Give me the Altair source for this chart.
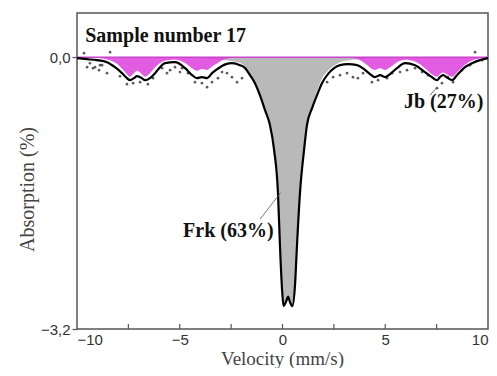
import altair as alt
import pandas as pd

# Total fit curve (velocity mm/s, absorption %)
total_v = [-10.0, -9.51, -9.03, -8.54, -8.15, -7.81, -7.57, -7.42, -7.23, -7.08, -6.84, -6.69, -6.45,
           -6.20, -5.96, -5.72, -5.23, -4.74, -4.40, -4.16, -3.92, -3.67, -3.43, -3.04, -2.75, -2.46,
           -2.07, -1.82, -1.58, -1.34, -1.10, -0.85, -0.61, -0.41, -0.22, -0.12, -0.02, 0.05, 0.17,
           0.27, 0.36, 0.48, 0.61, 0.70, 0.85, 1.05, 1.19, 1.44, 1.68, 1.92, 2.21, 2.51, 2.80, 3.19,
           3.63, 3.97, 4.26, 4.50, 4.75, 4.99, 5.23, 5.57, 5.96, 6.45, 6.93, 7.27, 7.52, 7.66, 7.81,
           8.05, 8.25, 8.49, 8.88, 9.22, 9.61, 10.0]
total_a = [-0.012, -0.024, -0.035, -0.059, -0.118, -0.188, -0.247, -0.271, -0.247, -0.224, -0.247,
           -0.271, -0.247, -0.188, -0.118, -0.071, -0.059, -0.129, -0.212, -0.247, -0.235, -0.247,
           -0.188, -0.118, -0.082, -0.071, -0.094, -0.129, -0.212, -0.306, -0.447, -0.624, -0.80,
           -1.09, -1.60, -2.24, -2.74, -2.93, -2.88, -2.82, -2.88, -2.93, -2.68, -2.24, -1.60, -1.09,
           -0.80, -0.60, -0.447, -0.306, -0.20, -0.129, -0.094, -0.082, -0.094, -0.141, -0.20, -0.235,
           -0.212, -0.235, -0.20, -0.129, -0.071, -0.094, -0.176, -0.235, -0.271, -0.235, -0.212,
           -0.247, -0.271, -0.212, -0.118, -0.071, -0.035, -0.012]

# Frk component (grey)
frk_v = [-4.5, -4.0, -3.5, -3.0, -2.5, -2.0, -1.58, -1.34, -1.10, -0.85, -0.61, -0.41, -0.22, -0.12,
         -0.02, 0.05, 0.17, 0.27, 0.36, 0.48, 0.61, 0.70, 0.85, 1.05, 1.19, 1.44, 1.68, 1.92, 2.21,
         2.51, 2.80, 3.2, 3.6, 4.0, 4.5]
frk_a = [0.0, -0.01, -0.02, -0.03, -0.045, -0.075, -0.19, -0.29, -0.447, -0.624, -0.80, -1.09, -1.60,
         -2.24, -2.74, -2.93, -2.88, -2.82, -2.88, -2.93, -2.68, -2.24, -1.60, -1.09, -0.80, -0.60,
         -0.40, -0.25, -0.16, -0.10, -0.06, -0.04, -0.025, -0.015, 0.0]

# Jb component (magenta)
jb_v = [-10.0, -9.0, -8.5, -8.1, -7.8, -7.57, -7.42, -7.23, -7.08, -6.84, -6.69, -6.45, -6.2, -5.96,
        -5.6, -5.2, -4.74, -4.4, -4.16, -3.92, -3.67, -3.43, -3.04, -2.75, -2.46, -2.0,
        3.0, 3.4, 3.8, 4.1, 4.35, 4.5, 4.75, 4.99, 5.23, 5.57, 5.96, 6.45, 6.93, 7.27, 7.52, 7.66,
        7.81, 8.05, 8.25, 8.49, 8.88, 9.22, 9.61, 10.0]
jb_a = [0.0, -0.01, -0.03, -0.07, -0.14, -0.20, -0.23, -0.19, -0.16, -0.20, -0.23, -0.19, -0.12, -0.07,
        -0.035, -0.03, -0.07, -0.13, -0.16, -0.14, -0.15, -0.11, -0.05, -0.02, -0.01, 0.0,
        0.0, -0.01, -0.04, -0.09, -0.14, -0.15, -0.13, -0.15, -0.12, -0.06, -0.03, -0.05, -0.13,
        -0.20, -0.23, -0.20, -0.18, -0.21, -0.23, -0.18, -0.09, -0.04, -0.015, 0.0]

# Experimental points (visible scatter)
pts_v = [-9.66, -9.51, -9.37, -9.22, -9.12, -8.93, -8.88, -8.78, -8.54, -8.39, -7.91, -7.57, -7.27,
         -6.93, -6.55, -6.30, -5.86, -5.62, -5.47, -5.23, -4.99, -4.89, -4.60, -4.26, -3.92, -3.67,
         -3.43, -3.14, -2.94, -2.70, -2.46, -2.21, -1.97, 2.17, 2.46, 2.80, 3.14, 3.43, 3.67, 3.92,
         4.35, 4.65, 5.09, 5.33, 5.72, 6.06, 6.45, 6.79, 7.08, 7.52, 7.76, 8.05, 8.30, 8.73, 9.12,
         9.37, 9.71]
pts_a = [0.047, -0.118, -0.071, -0.129, -0.118, -0.153, -0.094, -0.094, -0.188, 0.059, -0.224, -0.318,
         -0.306, -0.294, -0.318, -0.247, -0.129, -0.188, -0.153, -0.118, -0.176, -0.129, -0.188,
         -0.294, -0.306, -0.353, -0.294, -0.247, -0.176, -0.188, -0.235, -0.294, -0.247, -0.294,
         -0.235, -0.212, -0.188, -0.235, -0.247, -0.188, -0.294, -0.271, -0.247, -0.188, -0.176,
         -0.153, -0.129, -0.176, -0.212, -0.365, -0.306, -0.235, -0.294, -0.153, -0.094, 0.059,
         -0.035]

minor_ticks = [-7.5, -5, -2.5, 0, 2.5, 5, 7.5]

labels_txt = ["Sample number 17", "Jb (27%)", "Frk (63%)"]
labels_v = [-9.6, 5.91, -4.84]
labels_a = [0.176, -0.60, -2.118]

pointer_id = ["frk", "frk", "jb", "jb"]
pointer_v = [-1.09, -0.09, 7.18, 7.52]
pointer_a = [-1.906, -1.596, -0.447, -0.353]

W, H = 411, 316
xs = alt.Scale(domain=[-10, 10], nice=False, zero=False)
ys = alt.Scale(domain=[-3.2, 0.52], nice=False, zero=False)

total = pd.DataFrame({"v": total_v, "a": total_a})
frk = pd.DataFrame({"v": frk_v, "a": frk_a})
jb = pd.DataFrame({"v": jb_v, "a": jb_a})
pts = pd.DataFrame({"v": pts_v, "a": pts_a})
ticks = pd.DataFrame({"v": minor_ticks})
labels = pd.DataFrame({"v": labels_v, "a": labels_a, "t": labels_txt})
pointers = pd.DataFrame({"id": pointer_id, "v": pointer_v, "a": pointer_a})

xaxis = alt.Axis(values=[-10, -5, 0, 5, 10], labelExpr="replace(format(datum.value, 'd'), '-', '–')",
                 ticks=False, domain=False, grid=False, labelPadding=3,
                 labelFont="Liberation Sans", labelFontSize=15, labelColor="#333333",
                 title="Velocity (mm/s)", titleFont="Liberation Serif", titleFontSize=19,
                 titleFontWeight="normal", titleColor="#444444", titleX=205, titleY=35,
                 titleBaseline="alphabetic")
yaxis = alt.Axis(values=[0, -3.2], labelExpr="replace(replace(format(datum.value, '.1f'), '.', ','), '-', '–')",
                 ticks=True, tickSize=5, tickColor="#555555", tickWidth=1.2, domain=False, grid=False,
                 labelPadding=2, labelFont="Liberation Sans", labelFontSize=15, labelColor="#333333",
                 title="Absorption (%)", titleFont="Liberation Serif", titleFontSize=20,
                 titleFontWeight="normal", titleColor="#444444", titleX=-40, titleY=176,
                 titleAlign="center", titleBaseline="bottom", titleAngle=-90)

x = alt.X("v:Q", scale=xs, axis=xaxis)
y = alt.Y("a:Q", scale=ys, axis=yaxis)

frk_area = alt.Chart(frk).mark_area(color="#b9b9b9", interpolate="monotone").encode(
    x=x, y=y, y2=alt.datum(0))
jb_area = alt.Chart(jb).mark_area(color="#dd3fdd", opacity=0.85, interpolate="monotone").encode(
    x="v:Q", y="a:Q", y2=alt.datum(0))
base_rule = alt.Chart(pd.DataFrame({"a": [0]})).mark_rule(color="#cc44cc", strokeWidth=1.5).encode(
    y="a:Q")
points = alt.Chart(pts).mark_circle(size=7, color="#333333", opacity=0.8).encode(x="v:Q", y="a:Q")
line = alt.Chart(total).mark_line(color="#000000", strokeWidth=2.2, interpolate="monotone").encode(
    x="v:Q", y="a:Q")
xticks = alt.Chart(ticks).mark_rule(color="#555555", strokeWidth=1.2).encode(
    x="v:Q", y=alt.value(H), y2=alt.value(H - 5))
ptr = alt.Chart(pointers).mark_line(color="#555555", strokeWidth=0.8).encode(
    x="v:Q", y="a:Q", detail="id:N")
txt = alt.Chart(labels).mark_text(font="Liberation Serif", fontSize=20, fontWeight="bold",
                                  align="left", baseline="alphabetic", color="#111111").encode(
    x="v:Q", y="a:Q", text="t:N")

chart = alt.layer(frk_area, jb_area, base_rule, points, line, ptr, xticks, txt).properties(
    width=W, height=H,
    autosize=alt.AutoSizeParams(type="none"),
    padding={"left": 69, "top": 5, "right": 1, "bottom": 39},
).configure_view(stroke="#555555", strokeWidth=1.5)

chart.save("out.html", embed_options={"renderer": "svg", "actions": False})
